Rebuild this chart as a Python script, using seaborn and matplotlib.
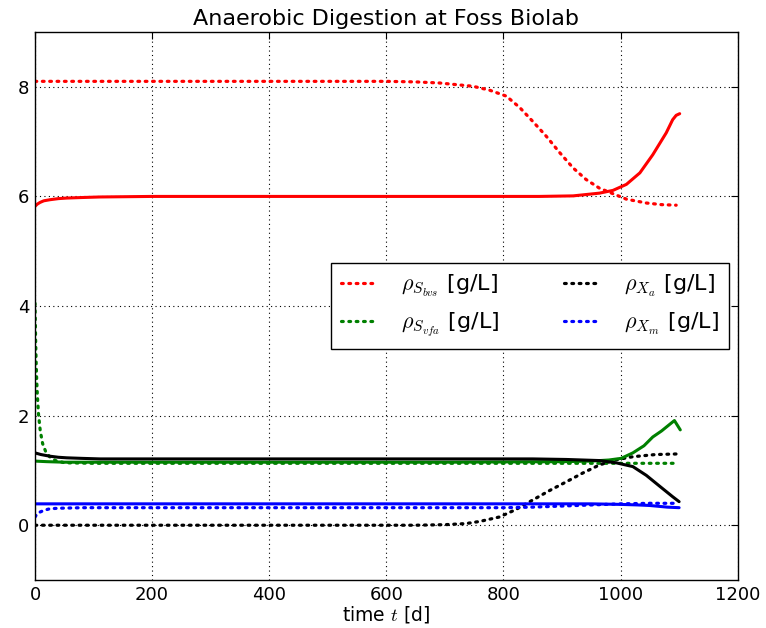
import matplotlib
matplotlib.use("Agg")
import matplotlib.pyplot as plt
import seaborn as sns
import pandas as pd

# --- simulated states of the digester (read off the model run) ---
t_bvs = [0, 100, 200, 300, 400, 500, 600, 650, 691, 748, 776, 805, 828, 850, 873,
         896, 919, 941, 964, 987, 1010, 1044, 1070, 1095]
rho_bvs = [8.10, 8.10, 8.10, 8.10, 8.10, 8.10, 8.10, 8.09, 8.07, 8.01, 7.94, 7.83, 7.62,
           7.37, 7.10, 6.80, 6.52, 6.31, 6.15, 6.05, 5.95, 5.88, 5.85, 5.84]

t_bvs_b = [0, 4, 8.5, 15, 25.6, 40, 54, 80, 111, 200, 400, 600, 800, 861, 919, 964,
           987, 1010, 1033, 1055, 1078, 1089, 1095, 1101]
rho_bvs_b = [5.82, 5.86, 5.89, 5.92, 5.94, 5.96, 5.97, 5.98, 5.99, 6.0, 6.0, 6.0, 6.0,
             6.0, 6.01, 6.06, 6.11, 6.22, 6.43, 6.76, 7.16, 7.40, 7.48, 7.51]

t_vfa = [0, 1, 2, 3, 4, 6, 9, 13, 18, 25, 35, 50, 100, 300, 600, 900, 1095]
rho_vfa = [4.05, 3.40, 2.95, 2.62, 2.38, 2.02, 1.72, 1.49, 1.35, 1.25, 1.18, 1.14, 1.13,
           1.13, 1.13, 1.13, 1.13]

t_vfa_b = [0, 20, 50, 100, 400, 700, 900, 950, 980, 1001, 1021, 1040, 1055, 1070,
           1085, 1092, 1102]
rho_vfa_b = [1.17, 1.16, 1.15, 1.15, 1.15, 1.15, 1.16, 1.17, 1.19, 1.22, 1.32, 1.45,
             1.61, 1.72, 1.85, 1.91, 1.74]

t_xa = [0, 200, 400, 600, 650, 700, 736, 760, 793, 820, 850, 880, 907, 935, 964, 990,
        1021, 1060, 1095]
rho_xa = [0.0, 0.0, 0.0, 0.0, 0.0, 0.01, 0.03, 0.07, 0.15, 0.28, 0.46, 0.64, 0.79,
          0.95, 1.10, 1.19, 1.25, 1.29, 1.30]

t_xa_b = [0, 10, 25, 40, 54, 80, 111, 300, 600, 850, 907, 964, 992, 1021, 1044, 1067,
          1089, 1100]
rho_xa_b = [1.32, 1.29, 1.26, 1.24, 1.23, 1.22, 1.21, 1.21, 1.21, 1.21, 1.20, 1.18,
            1.14, 1.07, 0.91, 0.71, 0.52, 0.43]

t_xm = [0, 3, 8.5, 15, 25, 40, 82, 300, 600, 800, 850, 900, 950, 1000, 1050, 1095]
rho_xm = [0.15, 0.20, 0.24, 0.27, 0.30, 0.31, 0.32, 0.32, 0.32, 0.32, 0.33, 0.35,
          0.37, 0.39, 0.40, 0.40]

t_xm_b = [0, 200, 400, 600, 800, 950, 1000, 1030, 1050, 1080, 1100]
rho_xm_b = [0.39, 0.39, 0.39, 0.39, 0.39, 0.39, 0.38, 0.37, 0.36, 0.33, 0.32]

labels = [r"$\rho_{S_{bvs}}$ [g/L]", r"$\rho_{S_{vfa}}$ [g/L]",
          r"$\rho_{X_a}$ [g/L]", r"$\rho_{X_m}$ [g/L]"]
colors = ["#ff0000", "#008000", "#000000", "#0000ff"]

sns.set_style("white")
plt.rcParams["font.family"] = ["DejaVu Sans"]
plt.rcParams["mathtext.fontset"] = "cm"
plt.rcParams["text.color"] = "black"
plt.rcParams["axes.labelcolor"] = "black"
plt.rcParams["xtick.color"] = "black"
plt.rcParams["ytick.color"] = "black"

fig = plt.figure(figsize=(7.66, 6.28), dpi=100)
ax = fig.add_axes([0.0457, 0.0764, 0.9173, 0.8726])

dotted = dict(lw=2.3, linestyle=(0, (0.55, 1.75)), dash_capstyle="round")
solid = dict(lw=2.2, linestyle="-")

dotted_sets = [(t_bvs, rho_bvs), (t_vfa, rho_vfa), (t_xa, rho_xa), (t_xm, rho_xm)]
solid_sets = [(t_bvs_b, rho_bvs_b), (t_vfa_b, rho_vfa_b), (t_xa_b, rho_xa_b),
              (t_xm_b, rho_xm_b)]

for (tt, vv), c, lab in zip(dotted_sets, colors, labels):
    df = pd.DataFrame({"t": tt, "v": vv})
    sns.lineplot(data=df, x="t", y="v", ax=ax, color=c, label=lab, **dotted)
for (tt, vv), c in zip(solid_sets, colors):
    df = pd.DataFrame({"t": tt, "v": vv})
    sns.lineplot(data=df, x="t", y="v", ax=ax, color=c, legend=False, **solid)

ax.set_xlim(0, 1200)
ax.set_ylim(-1, 9)
ax.set_xticks(range(0, 1201, 200))
ax.set_yticks([0, 2, 4, 6, 8])
ax.grid(True, color="black", linestyle=(0, (1, 3)), linewidth=0.8)
for s in ax.spines.values():
    s.set_visible(True)
    s.set_color("black")
    s.set_linewidth(1.0)
ax.tick_params(direction="in", top=True, right=True, length=5, width=0.8,
               labelsize=13, pad=4, colors="black")
ax.set_xlabel(r"time $t$ [d]", fontsize=13.5, labelpad=0)
ax.set_ylabel("")
ax.set_title("Anaerobic Digestion at Foss Biolab", fontsize=16, pad=5)

leg = ax.legend(loc="center right", ncol=2, fontsize=16, frameon=True,
                fancybox=False, edgecolor="black", framealpha=1,
                handlelength=1.6, handletextpad=1.1, columnspacing=2.9,
                borderaxespad=0.4, borderpad=0.45)
leg.get_frame().set_linewidth(1.0)

fig.savefig("out.png", dpi=100)
